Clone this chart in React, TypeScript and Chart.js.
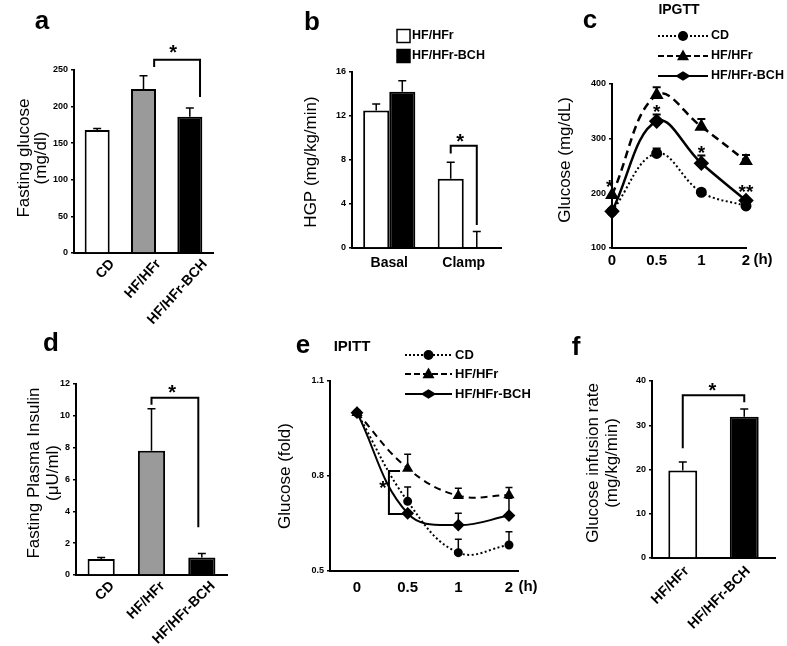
import React, { useEffect, useRef } from 'react';
import { Chart, registerables } from 'chart.js';
Chart.register(...registerables);

const W = 787;
const H = 646;
const FONT = "'Liberation Sans', Arial, Helvetica, sans-serif";
const YW = 40;

// ---------- Panel a : Fasting glucose ----------
const aCategories = ['CD', 'HF/HFr', 'HF/HFr-BCH'];
const aValues = [168, 224, 186];
const aSem = [2, 18, 12];
const aTicks = [0, 50, 100, 150, 200, 250];

// ---------- Panel b : HGP ----------
const bCategories = ['Basal', 'Clamp'];
const bSeries = ['HF/HFr', 'HF/HFr-BCH'];
const bHF = [12.5, 6.3];
const bHFSem = [0.6, 1.5];
const bBCH = [14.2, 0];
const bBCHSem = [1.0, 1.5];
const bTicks = [0, 4, 8, 12, 16];

// ---------- Panel c : IPGTT ----------
const cTimes = ['0', '0.5', '1', '2'];
const cSeries = ['CD', 'HF/HFr', 'HF/HFr-BCH'];
const cCD = [167, 273, 202, 177];
const cCDSem = [0, 9, 0, 0];
const cHF = [197, 380, 322, 259];
const cHFSem = [0, 14, 14, 11];
const cBCH = [167, 332, 255, 187];
const cBCHSem = [0, 12, 14, 0];
const cTicks = [100, 200, 300, 400];

// ---------- Panel d : Fasting plasma insulin ----------
const dCategories = ['CD', 'HF/HFr', 'HF/HFr-BCH'];
const dValues = [1.0, 7.8, 1.1];
const dSem = [0.1, 2.65, 0.25];
const dTicks = [0, 2, 4, 6, 8, 10, 12];

// ---------- Panel e : IPITT ----------
const eTimes = ['0', '0.5', '1', '2'];
const eSeries = ['CD', 'HF/HFr', 'HF/HFr-BCH'];
const eCD = [1.0, 0.72, 0.558, 0.582];
const eCDSem = [0, 0.045, 0.042, 0.042];
const eHF = [1.0, 0.824, 0.738, 0.74];
const eHFSem = [0, 0.045, 0.023, 0.024];
const eBCH = [1.0, 0.682, 0.645, 0.675];
const eBCHSem = [0, 0, 0.037, 0.055];
const eTicks = [0.5, 0.8, 1.1];

// ---------- Panel f : Glucose infusion rate ----------
const fCategories = ['HF/HFr', 'HF/HFr-BCH'];
const fValues = [19.8, 31.9];
const fSem = [1.9, 1.8];
const fTicks = [0, 10, 20, 30, 40];

type Txt = { t: string; x: number; y: number; size: number; bold?: boolean; rot?: boolean; align?: CanvasTextAlign; base?: CanvasTextBaseline };
type Star = { t: string; x: number; y: number; size: number };
type LegendRow = { y: number; label: string; dash: number[]; style: string; r: number; lw: number };
type Deco = {
  texts?: Txt[];
  brackets?: number[][][];
  stars?: Star[];
  capHalf: number;
  errWidth: number;
  legendLines?: { x0: number; x1: number; tx: number; size: number; rows: LegendRow[] };
  legendBoxes?: { x: number; s: number; tx: number; size: number; rows: { y: number; label: string; fill: string }[] };
};

function marker(ctx: CanvasRenderingContext2D, style: string, x: number, y: number, r: number) {
  ctx.beginPath();
  if (style === 'circle') {
    ctx.arc(x, y, r, 0, Math.PI * 2);
  } else if (style === 'triangle') {
    ctx.moveTo(x, y - r * 1.1);
    ctx.lineTo(x + r, y + r * 0.7);
    ctx.lineTo(x - r, y + r * 0.7);
    ctx.closePath();
  } else {
    ctx.moveTo(x, y - r * 0.8);
    ctx.lineTo(x + r * 1.3, y);
    ctx.lineTo(x, y + r * 0.8);
    ctx.lineTo(x - r * 1.3, y);
    ctx.closePath();
  }
  ctx.fill();
}

function font(size: number, bold?: boolean) {
  return `${bold ? 'bold ' : ''}${size}px ${FONT}`;
}

function makeDeco(cfg: Deco) {
  return {
    id: 'deco',
    afterDraw(chart: any) {
      const ctx: CanvasRenderingContext2D = chart.ctx;
      const xs = chart.scales.x;
      const ys = chart.scales.y;
      ctx.save();
      ctx.fillStyle = '#000';
      ctx.strokeStyle = '#000';
      // error bars
      chart.data.datasets.forEach((ds: any, di: number) => {
        if (!ds.sem) return;
        const meta = chart.getDatasetMeta(di);
        ds.sem.forEach((s: number, i: number) => {
          if (!s) return;
          const el = meta.data[i];
          const raw = ds.data[i];
          const v = typeof raw === 'number' ? raw : raw.y;
          const y0 = ys.getPixelForValue(v);
          const y1 = ys.getPixelForValue(v + s);
          ctx.lineWidth = cfg.errWidth;
          ctx.setLineDash([]);
          ctx.beginPath();
          ctx.moveTo(el.x, y0);
          ctx.lineTo(el.x, y1);
          ctx.moveTo(el.x - cfg.capHalf, y1);
          ctx.lineTo(el.x + cfg.capHalf, y1);
          ctx.stroke();
        });
      });
      // brackets
      (cfg.brackets || []).forEach((path) => {
        ctx.lineWidth = 2;
        ctx.setLineDash([]);
        ctx.beginPath();
        path.forEach(([vx, vy], k) => {
          const px = xs.getPixelForValue(vx);
          const py = ys.getPixelForValue(vy);
          if (k === 0) ctx.moveTo(px, py);
          else ctx.lineTo(px, py);
        });
        ctx.stroke();
      });
      // stars
      (cfg.stars || []).forEach((s) => {
        ctx.font = font(s.size, true);
        ctx.textAlign = 'center';
        ctx.textBaseline = 'alphabetic';
        ctx.fillText(s.t, xs.getPixelForValue(s.x), ys.getPixelForValue(s.y) + 0.57 * s.size);
      });
      // texts
      (cfg.texts || []).forEach((t) => {
        ctx.font = font(t.size, t.bold);
        ctx.textAlign = t.align || 'center';
        ctx.textBaseline = t.base || 'middle';
        if (t.rot) {
          ctx.save();
          ctx.translate(t.x, t.y);
          ctx.rotate(-Math.PI / 2);
          ctx.fillText(t.t, 0, 0);
          ctx.restore();
        } else {
          ctx.fillText(t.t, t.x, t.y);
        }
      });
      // line legend
      if (cfg.legendLines) {
        const L = cfg.legendLines;
        L.rows.forEach((r) => {
          ctx.lineWidth = r.lw;
          ctx.setLineDash(r.dash);
          ctx.beginPath();
          ctx.moveTo(L.x0, r.y);
          ctx.lineTo(L.x1, r.y);
          ctx.stroke();
          ctx.setLineDash([]);
          marker(ctx, r.style, (L.x0 + L.x1) / 2, r.y, r.r);
          ctx.font = font(L.size, true);
          ctx.textAlign = 'left';
          ctx.textBaseline = 'middle';
          ctx.fillText(r.label, L.tx, r.y);
        });
      }
      // box legend
      if (cfg.legendBoxes) {
        const L = cfg.legendBoxes;
        L.rows.forEach((r) => {
          ctx.fillStyle = r.fill;
          ctx.fillRect(L.x, r.y - L.s / 2, L.s, L.s);
          ctx.lineWidth = 1.5;
          ctx.strokeStyle = '#000';
          ctx.strokeRect(L.x, r.y - L.s / 2, L.s, L.s);
          ctx.fillStyle = '#000';
          ctx.font = font(L.size, true);
          ctx.textAlign = 'left';
          ctx.textBaseline = 'middle';
          ctx.fillText(r.label, L.tx, r.y);
        });
      }
      ctx.restore();
    },
  };
}

type Area = { l: number; r: number; t: number; b: number };

function layoutFor(a: Area, xh: number) {
  return { padding: { left: a.l - YW, right: W - a.r, top: a.t, bottom: Math.max(0, H - a.b - xh) } };
}

function yScale(ticks: number[]) {
  return {
    type: 'linear',
    min: ticks[0],
    max: ticks[ticks.length - 1],
    afterBuildTicks: (s: any) => {
      s.ticks = ticks.map((v) => ({ value: v }));
    },
    afterFit: (s: any) => {
      s.width = YW;
    },
    grid: { display: true, drawOnChartArea: false, drawTicks: true, tickLength: 3, color: '#000', lineWidth: 1.5 },
    border: { display: true, color: '#000', width: 2 },
    ticks: { color: '#000', font: { size: 9, weight: 'bold' }, padding: 3, callback: (v: number) => String(v) },
  };
}

function catScale(labelOffset: number, padding: number, rot: number, size: number, xh: number) {
  return {
    type: 'category',
    offset: true,
    afterFit: (s: any) => {
      s.height = xh;
    },
    grid: { display: false, drawTicks: false },
    border: { display: true, color: '#000', width: 2 },
    ticks: {
      color: '#000',
      font: { size, weight: 'bold' },
      minRotation: rot,
      maxRotation: rot,
      autoSkip: false,
      labelOffset,
      padding,
    },
  };
}

function timeScale(times: string[], min: number, max: number, padding: number, xh: number) {
  return {
    type: 'linear',
    min,
    max,
    afterBuildTicks: (s: any) => {
      s.ticks = times.map((_, i) => ({ value: i }));
    },
    afterFit: (s: any) => {
      s.height = xh;
    },
    grid: { display: false, drawTicks: false },
    border: { display: true, color: '#000', width: 2 },
    ticks: {
      color: '#000',
      font: { size: 15, weight: 'bold' },
      maxRotation: 0,
      autoSkip: false,
      padding,
      callback: (v: number) => times[v] ?? '',
    },
  };
}

function baseOptions(area: Area, xh: number, scales: any) {
  return {
    responsive: false,
    animation: false,
    events: [],
    layout: layoutFor(area, xh),
    plugins: { legend: { display: false }, title: { display: false }, tooltip: { enabled: false } },
    scales,
  };
}

function lineDs(vals: number[], sem: number[], dash: number[], style: string, r: number, lw: number) {
  return {
    data: vals.map((v, i) => ({ x: i, y: v })),
    sem,
    borderColor: '#000',
    backgroundColor: '#000',
    pointBackgroundColor: '#000',
    pointBorderColor: '#000',
    borderWidth: lw,
    borderDash: dash,
    pointStyle: style,
    pointRadius: r,
    tension: 0.4,
    clip: false,
    fill: false,
  };
}

const builders: ((c: HTMLCanvasElement) => Chart)[] = [
  // a
  (c) => {
    const area = { l: 74, r: 213, t: 70, b: 253 };
    const xh = 95;
    return new Chart(c, {
      type: 'bar',
      data: {
        labels: aCategories,
        datasets: [
          {
            data: aValues,
            sem: aSem,
            backgroundColor: ['#ffffff', '#9a9a9a', '#000000'],
            borderColor: '#000',
            borderWidth: 2,
            barPercentage: 0.54,
            categoryPercentage: 1,
          } as any,
        ],
      },
      options: baseOptions(area, xh, { x: catScale(15, 3, 48, 14, xh), y: yScale(aTicks) }) as any,
      plugins: [
        makeDeco({
          capHalf: 4,
          errWidth: 1.5,
          brackets: [[[1.23, 254], [1.23, 264], [2.22, 264], [2.22, 213]]],
          stars: [{ t: '*', x: 1.64, y: 280, size: 20 }],
          texts: [
            { t: 'a', x: 42, y: 29, size: 26, bold: true, base: 'alphabetic' },
            { t: 'Fasting glucose', x: 24, y: 158, size: 17, rot: true },
            { t: '(mg/dl)', x: 41, y: 158, size: 17, rot: true },
          ],
        }),
      ],
    });
  },
  // b
  (c) => {
    const area = { l: 352, r: 501, t: 72, b: 248 };
    const xh = 60;
    return new Chart(c, {
      type: 'bar',
      data: {
        labels: bCategories,
        datasets: [
          { label: bSeries[0], data: bHF, sem: bHFSem, backgroundColor: '#fff', borderColor: '#000', borderWidth: 2, barPercentage: 1, categoryPercentage: 0.7 } as any,
          { label: bSeries[1], data: bBCH, sem: bBCHSem, backgroundColor: '#000', borderColor: '#000', borderWidth: 2, barPercentage: 1, categoryPercentage: 0.7 } as any,
        ],
      },
      options: baseOptions(area, xh, { x: catScale(0, 7, 0, 14, xh), y: yScale(bTicks) }) as any,
      plugins: [
        makeDeco({
          capHalf: 4,
          errWidth: 1.5,
          brackets: [[[0.825, 8.6], [0.825, 9.3], [1.175, 9.3], [1.175, 2.1]]],
          stars: [{ t: '*', x: 0.95, y: 10.1, size: 20 }],
          legendBoxes: {
            x: 397,
            s: 13,
            tx: 412,
            size: 12.5,
            rows: [
              { y: 36, label: bSeries[0], fill: '#fff' },
              { y: 56, label: bSeries[1], fill: '#000' },
            ],
          },
          texts: [
            { t: 'b', x: 312, y: 30, size: 26, bold: true, base: 'alphabetic' },
            { t: 'HGP (mg/kg/min)', x: 311, y: 162, size: 17, rot: true },
          ],
        }),
      ],
    });
  },
  // c
  (c) => {
    const area = { l: 612, r: 746, t: 84, b: 248 };
    const xh = 60;
    return new Chart(c, {
      type: 'line',
      data: {
        datasets: [
          lineDs(cCD, cCDSem, [2, 2.5], 'circle', 4.5, 2),
          lineDs(cHF, cHFSem, [8, 5], 'triangle', 5.5, 2.5),
          lineDs(cBCH, cBCHSem, [], 'rectRot', 6, 2.5),
        ] as any,
      },
      options: baseOptions(area, xh, { x: timeScale(cTimes, 0, 3, 4, xh), y: yScale(cTicks) }) as any,
      plugins: [
        makeDeco({
          capHalf: 4,
          errWidth: 2,
          stars: [
            { t: '*', x: -0.05, y: 221, size: 19 },
            { t: '*', x: 1, y: 357, size: 19 },
            { t: '*', x: 2, y: 283, size: 19 },
            { t: '**', x: 3, y: 212, size: 19 },
          ],
          legendLines: {
            x0: 658,
            x1: 708,
            tx: 711,
            size: 12.5,
            rows: [
              { y: 36, label: cSeries[0], dash: [2, 2], style: 'circle', r: 5, lw: 2 },
              { y: 56, label: cSeries[1], dash: [6, 3], style: 'triangle', r: 6, lw: 2 },
              { y: 76, label: cSeries[2], dash: [], style: 'diamond', r: 6, lw: 2 },
            ],
          },
          texts: [
            { t: 'c', x: 590, y: 28, size: 26, bold: true, base: 'alphabetic' },
            { t: 'IPGTT', x: 679, y: 10, size: 14, bold: true },
            { t: 'Glucose (mg/dL)', x: 565, y: 160, size: 17, rot: true },
            { t: '(h)', x: 763, y: 260, size: 15, bold: true },
          ],
        }),
      ],
    });
  },
  // d
  (c) => {
    const area = { l: 76, r: 227, t: 384, b: 575 };
    const xh = 71;
    return new Chart(c, {
      type: 'bar',
      data: {
        labels: dCategories,
        datasets: [
          {
            data: dValues,
            sem: dSem,
            backgroundColor: ['#ffffff', '#9a9a9a', '#000000'],
            borderColor: '#000',
            borderWidth: 2,
            barPercentage: 0.54,
            categoryPercentage: 1,
          } as any,
        ],
      },
      options: baseOptions(area, xh, { x: catScale(11, 3, 45, 14, xh), y: yScale(dTicks) }) as any,
      plugins: [
        makeDeco({
          capHalf: 4,
          errWidth: 1.5,
          brackets: [[[1, 10.7], [1, 11.13], [1.93, 11.13], [1.93, 3.0]]],
          stars: [{ t: '*', x: 1.41, y: 11.8, size: 20 }],
          texts: [
            { t: 'd', x: 51, y: 351, size: 26, bold: true, base: 'alphabetic' },
            { t: 'Fasting Plasma Insulin', x: 34, y: 473, size: 17, rot: true },
            { t: '(μU/ml)', x: 53, y: 473, size: 17, rot: true },
          ],
        }),
      ],
    });
  },
  // e
  (c) => {
    const area = { l: 330, r: 518, t: 381, b: 571 };
    const xh = 60;
    return new Chart(c, {
      type: 'line',
      data: {
        datasets: [
          lineDs(eCD, eCDSem, [2, 2.5], 'circle', 3.5, 2),
          lineDs(eHF, eHFSem, [7, 5], 'triangle', 4.5, 2),
          lineDs(eBCH, eBCHSem, [], 'rectRot', 5, 2),
        ] as any,
      },
      options: baseOptions(area, xh, { x: timeScale(eTimes, -0.533, 3.178, 8, xh), y: yScale(eTicks) }) as any,
      plugins: [
        makeDeco({
          capHalf: 3.5,
          errWidth: 1.5,
          brackets: [[[0.85, 0.816], [0.63, 0.816], [0.63, 0.68], [0.99, 0.68]]],
          stars: [{ t: '*', x: 0.51, y: 0.778, size: 19 }],
          legendLines: {
            x0: 405,
            x1: 452,
            tx: 455,
            size: 13,
            rows: [
              { y: 355, label: eSeries[0], dash: [2, 2], style: 'circle', r: 5, lw: 2 },
              { y: 374, label: eSeries[1], dash: [6, 3], style: 'triangle', r: 6, lw: 2 },
              { y: 394, label: eSeries[2], dash: [], style: 'diamond', r: 6, lw: 2 },
            ],
          },
          texts: [
            { t: 'e', x: 303, y: 353, size: 26, bold: true, base: 'alphabetic' },
            { t: 'IPITT', x: 352, y: 347, size: 15, bold: true },
            { t: 'Glucose (fold)', x: 285, y: 476, size: 17, rot: true },
            { t: '(h)', x: 528, y: 587, size: 15, bold: true },
          ],
        }),
      ],
    });
  },
  // f
  (c) => {
    const area = { l: 652, r: 775, t: 381, b: 558 };
    const xh = 88;
    return new Chart(c, {
      type: 'bar',
      data: {
        labels: fCategories,
        datasets: [
          {
            data: fValues,
            sem: fSem,
            backgroundColor: ['#ffffff', '#000000'],
            borderColor: '#000',
            borderWidth: 2,
            barPercentage: 0.47,
            categoryPercentage: 1,
          } as any,
        ],
      },
      options: baseOptions(area, xh, { x: catScale(4, 5, 45, 14, xh), y: yScale(fTicks) }) as any,
      plugins: [
        makeDeco({
          capHalf: 4,
          errWidth: 1.5,
          brackets: [[[0, 24.8], [0, 36.8], [1, 36.8], [1, 35.2]]],
          stars: [{ t: '*', x: 0.48, y: 39, size: 20 }],
          texts: [
            { t: 'f', x: 576, y: 355, size: 26, bold: true, base: 'alphabetic' },
            { t: 'Glucose infusion rate', x: 593, y: 463, size: 17, rot: true },
            { t: '(mg/kg/min)', x: 612, y: 463, size: 17, rot: true },
          ],
        }),
      ],
    });
  },
];

function Panel({ build }: { build: (c: HTMLCanvasElement) => Chart }) {
  const ref = useRef<HTMLCanvasElement>(null);
  useEffect(() => {
    const ch = build(ref.current as HTMLCanvasElement);
    return () => ch.destroy();
  }, [build]);
  return <canvas ref={ref} width={W} height={H} style={{ position: 'absolute', left: 0, top: 0, width: W, height: H }} />;
}

export default function App() {
  Chart.defaults.font.family = FONT;
  Chart.defaults.color = '#000';
  return (
    <div style={{ position: 'fixed', left: 0, top: 0, width: W, height: H, background: '#fff', overflow: 'hidden' }}>
      {builders.map((b, i) => (
        <Panel key={i} build={b} />
      ))}
    </div>
  );
}
